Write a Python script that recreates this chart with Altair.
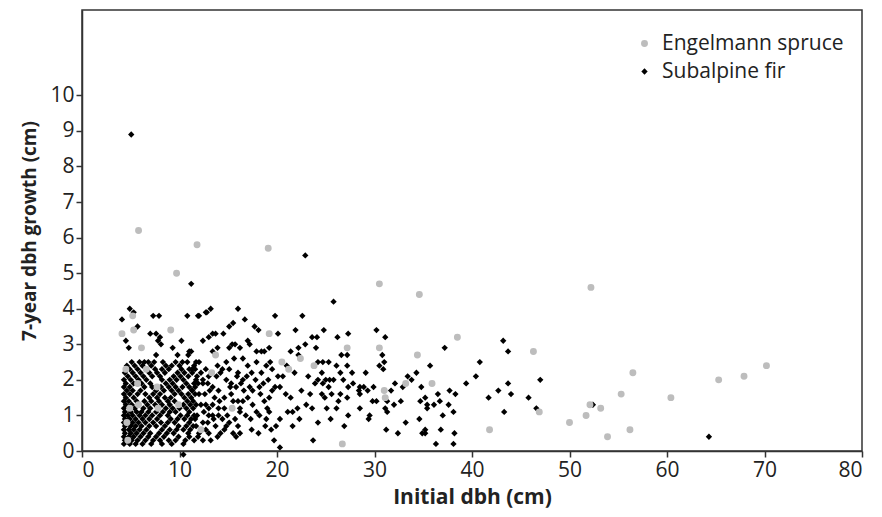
import altair as alt
import pandas as pd

SPRUCE = "Engelmann spruce"
FIR = "Subalpine fir"

# Engelmann spruce points (initial dbh, 7-year growth)
spruce_pts = [
    (5.8, 6.2), (11.8, 5.8), (19.1, 5.7), (9.7, 5.0), (30.5, 4.7), (34.6, 4.4),
    (52.2, 4.6), (38.5, 3.2), (46.3, 2.8), (56.5, 2.2), (70.2, 2.4), (67.9, 2.1),
    (65.3, 2.0), (55.3, 1.6), (60.4, 1.5), (52.1, 1.3), (53.2, 1.2), (51.7, 1.0),
    (50.0, 0.8), (53.9, 0.4), (56.2, 0.6), (46.9, 1.1), (41.8, 0.6), (35.9, 1.9),
    (33.2, 1.9), (31.0, 1.7), (31.1, 1.5), (30.5, 2.9), (34.4, 2.7), (27.2, 2.9),
    (26.7, 0.2), (22.4, 2.6), (20.5, 2.5), (21.2, 2.3), (23.8, 2.4), (19.2, 3.3),
    (13.7, 2.7), (13.3, 2.2), (15.4, 1.2), (12.2, 0.6), (4.1, 3.3), (5.2, 3.8),
    (5.3, 3.4), (9.1, 3.4), (6.1, 2.9), (4.5, 2.3), (6.6, 2.3), (5.7, 1.9),
    (7.7, 1.8), (9.9, 1.3), (4.9, 1.2), (5.8, 1.3), (7.8, 1.2), (4.6, 0.8),
    (4.7, 0.3),
]

# Subalpine fir: outliers and upper points
fir_sparse = [
    (5.05, 8.9), (22.9, 5.5), (11.2, 4.7), (25.8, 4.2), (64.3, 0.4), (52.4, 1.3),
    (10.4, -0.1), (4.9, 4.0), (5.3, 3.9), (4.1, 3.7), (5.7, 3.5), (4.5, 3.1),
    (4.8, 2.9), (7.3, 3.8), (7.9, 3.8), (10.8, 3.8), (11.9, 3.8), (12.8, 3.9),
    (7.0, 3.3), (7.6, 3.3), (7.8, 3.1), (8.1, 3.0), (8.0, 3.2), (9.3, 2.9),
    (10.2, 3.1), (11.0, 2.8), (11.2, 2.8), (7.6, 2.7), (9.8, 2.7), (10.9, 2.7),
    (6.4, 2.5),
]

# Subalpine fir: dense block of small trees, listed row by row (growth, dbh values)
fir_dense_rows = [
    (2.5, [5.1, 5.9, 6.8, 7.4, 8.3, 9.6, 10.3, 10.8]),
    (2.4, [4.6, 5.4, 6.2, 7.1, 8.6, 9.2, 10.0, 11.5]),
    (2.3, [4.9, 5.7, 7.5, 8.2, 8.9, 10.2, 11.0]),
    (2.2, [4.4, 5.2, 6.0, 6.9, 7.7, 8.5, 9.8, 10.5, 11.3]),
    (2.1, [4.7, 5.5, 6.3, 7.2, 8.0, 9.4, 10.1, 10.9]),
    (2.0, [4.3, 5.0, 5.8, 6.6, 8.2, 9.0, 9.7, 10.4, 11.7]),
    (1.9, [4.5, 5.3, 6.1, 7.0, 8.6, 9.3, 10.7]),
    (1.8, [4.3, 4.9, 6.4, 7.2, 8.1, 8.9, 9.6, 10.3, 11.0, 11.6]),
    (1.7, [4.6, 5.2, 6.0, 7.6, 8.4, 9.2, 9.9, 11.3]),
    (1.6, [4.3, 4.9, 5.7, 6.5, 7.3, 8.0, 9.5, 10.2, 10.9, 11.6]),
    (1.5, [4.5, 5.3, 6.9, 7.7, 8.5, 9.1, 10.5, 11.2]),
    (1.4, [4.3, 4.8, 5.6, 6.4, 7.1, 7.9, 8.8, 9.5, 10.8]),
    (1.3, [4.5, 5.1, 6.7, 7.5, 8.2, 9.0, 10.4, 11.1, 11.7]),
    (1.2, [4.3, 5.4, 6.3, 7.0, 8.6, 9.3, 10.0, 10.7, 11.4]),
    (1.1, [4.4, 5.0, 5.6, 6.1, 6.8, 7.6, 8.3, 9.0, 9.6, 11.0]),
    (1.0, [4.3, 4.7, 5.2, 5.9, 6.5, 7.2, 8.0, 8.8, 10.1, 10.8, 11.5]),
    (0.9, [4.4, 4.9, 5.5, 6.2, 6.9, 7.7, 9.1, 9.8, 10.5, 11.2]),
    (0.8, [4.3, 5.2, 5.8, 6.5, 7.3, 8.1, 8.8, 9.5, 11.0]),
    (0.7, [4.4, 5.0, 5.5, 6.1, 6.9, 7.6, 8.5, 9.9, 10.7, 11.4]),
    (0.6, [4.3, 4.8, 5.3, 5.9, 6.6, 8.2, 9.0, 9.7, 10.4, 11.1]),
    (0.5, [4.4, 5.0, 5.6, 6.3, 7.0, 7.9, 8.7, 9.4, 10.9]),
    (0.4, [4.3, 4.8, 5.3, 6.0, 6.8, 7.6, 8.4, 9.9, 11.0]),
    (0.3, [4.4, 5.1, 5.7, 6.5, 7.3, 8.0, 8.9, 9.6, 10.6]),
    (0.2, [4.3, 4.9, 5.5, 6.2, 7.1, 8.2, 9.2, 10.4]),
]

# Subalpine fir: dbh 11-19 cm
fir_mid1 = [
    (12.7, 3.9), (13.2, 4.0), (16.0, 4.0), (12.0, 3.8), (16.7, 3.7), (15.5, 3.6),
    (15.1, 3.5), (17.7, 3.5), (18.1, 3.4), (13.4, 3.3), (13.7, 3.3), (14.5, 3.3),
    (13.0, 3.2), (12.4, 3.1), (15.4, 3.0), (15.7, 3.0), (15.1, 2.9), (16.2, 2.9),
    (17.0, 3.1), (17.2, 3.0), (17.9, 2.8), (18.4, 2.8), (18.7, 2.8), (19.2, 2.9),
    (13.4, 2.8), (13.9, 2.9), (11.7, 2.5), (12.0, 2.5), (14.8, 2.5), (15.6, 2.6),
    (16.5, 2.6), (17.0, 2.4), (17.9, 2.5), (18.9, 2.4), (11.3, 2.3), (12.7, 2.3),
    (15.1, 2.3), (16.0, 2.2), (18.4, 2.2), (11.8, 2.1), (13.0, 2.1), (13.8, 2.1),
    (14.8, 2.0), (16.5, 2.0), (19.1, 2.0), (11.5, 1.9), (12.4, 1.9), (13.4, 1.8),
    (14.0, 1.7), (15.2, 1.8), (15.8, 1.8), (17.2, 1.8), (18.2, 1.8), (17.5, 1.7),
    (11.3, 1.7), (12.0, 1.6), (14.6, 1.5), (15.5, 1.4), (16.0, 1.4), (16.5, 1.4),
    (17.0, 1.5), (17.5, 1.3), (18.3, 1.6), (18.7, 1.4), (11.4, 1.4), (12.7, 1.3),
    (13.0, 1.2), (14.0, 1.2), (16.2, 1.2), (17.9, 1.1), (11.8, 1.0), (13.4, 1.0),
    (14.4, 0.9), (15.7, 0.9), (18.2, 1.0), (12.4, 0.8), (14.8, 0.7), (13.7, 0.7),
    (17.4, 0.6), (18.8, 0.7), (13.0, 0.5), (14.6, 0.6), (15.5, 0.5), (13.9, 0.4),
    (12.4, 0.3), (13.2, 0.3), (16.2, 0.5), (15.8, 0.4), (11.9, 0.4),
    (11.6, 2.3), (12.2, 2.2), (12.4, 2.0), (11.9, 1.9), (12.9, 1.9), (13.1, 1.7),
    (12.6, 1.6), (13.6, 1.5), (14.1, 1.4), (12.2, 1.3), (13.4, 1.3), (14.6, 1.2),
    (12.5, 1.1), (13.0, 1.0), (14.0, 1.0), (11.6, 0.9), (12.9, 0.8), (13.5, 0.9),
    (11.7, 0.7), (12.7, 0.6), (14.2, 0.5), (12.0, 0.5), (11.5, 0.3), (14.4, 2.3),
    (13.9, 2.4), (14.2, 2.2), (15.9, 2.1), (16.9, 2.1), (17.4, 2.2), (17.8, 2.0),
    (18.6, 1.9), (16.6, 1.7), (15.3, 1.6), (16.2, 1.1), (16.8, 1.0), (17.3, 0.9),
    (15.1, 0.8), (16.0, 0.7), (18.1, 0.5), (19.0, 1.2), (18.9, 0.9), (14.9, 1.0),
    (15.3, 1.9), (16.3, 1.9),
]

# Subalpine fir: dbh 19-27 cm
fir_mid2 = [
    (19.8, 3.8), (22.6, 3.8), (20.1, 3.3), (21.9, 3.4), (24.8, 3.4), (23.6, 3.2),
    (24.1, 3.2), (26.2, 3.2), (22.2, 2.9), (22.9, 3.0), (24.0, 2.9), (21.4, 2.8),
    (22.2, 2.7), (26.6, 2.7), (19.3, 2.5), (24.2, 2.5), (24.7, 2.5), (25.3, 2.5),
    (19.5, 2.3), (21.0, 2.4), (21.8, 2.2), (20.1, 2.1), (20.6, 2.1), (23.2, 2.1),
    (26.1, 2.4), (26.5, 2.2), (24.6, 2.2), (25.4, 2.0), (25.0, 2.0), (25.8, 2.0),
    (24.2, 2.0), (23.9, 1.9), (24.7, 1.9), (25.3, 1.8), (19.8, 1.8), (20.3, 1.8),
    (19.5, 1.7), (20.9, 1.6), (19.2, 1.5), (21.4, 1.5), (22.5, 1.7), (23.4, 1.6),
    (24.6, 1.6), (24.9, 1.5), (25.6, 1.6), (26.5, 1.6), (26.3, 1.4), (23.0, 1.3),
    (23.6, 1.2), (25.1, 1.2), (26.1, 1.2), (21.1, 1.1), (22.1, 1.2), (21.6, 1.1),
    (19.2, 1.1), (20.3, 0.9), (22.3, 0.9), (24.2, 0.8), (25.5, 0.9), (19.9, 0.7),
    (21.6, 0.7), (19.4, 0.6), (19.7, 0.3), (23.7, 0.3), (20.3, 0.1),
]

# Subalpine fir: dbh 27-47 cm
fir_large = [
    (27.3, 3.3), (30.2, 3.4), (31.1, 3.2), (30.8, 2.7), (27.2, 2.7), (31.0, 2.5),
    (30.5, 2.4), (30.9, 2.3), (27.2, 2.4), (27.7, 2.2), (29.1, 2.2), (26.8, 2.0),
    (27.8, 1.9), (28.5, 1.8), (28.9, 1.8), (29.9, 1.8), (28.4, 1.7), (27.3, 1.8),
    (29.3, 1.7), (28.5, 1.6), (27.2, 1.5), (29.8, 1.4), (30.2, 1.4), (31.7, 1.7),
    (32.1, 1.9), (32.9, 1.8), (33.4, 2.1), (33.8, 2.0), (34.3, 2.2), (34.7, 1.4),
    (31.3, 1.4), (32.0, 1.3), (32.7, 1.4), (28.5, 1.2), (31.1, 1.2), (31.3, 1.1),
    (29.5, 1.0), (29.4, 0.9), (27.3, 1.0), (26.9, 0.7), (33.2, 0.8), (34.6, 0.9),
    (31.2, 0.6), (32.4, 0.5), (34.9, 0.5),
    (37.2, 2.9), (35.7, 2.4), (43.2, 3.1), (43.7, 2.8), (40.8, 2.5), (40.4, 2.1),
    (39.4, 1.9), (47.0, 2.0), (43.7, 1.9), (42.7, 1.7), (44.0, 1.6), (41.7, 1.5),
    (45.8, 1.5), (46.6, 1.2), (43.3, 1.1), (34.8, 1.8), (37.7, 1.7), (38.3, 1.6),
    (36.5, 1.6), (35.2, 1.5), (36.7, 1.4), (36.1, 1.3), (35.4, 1.3), (35.4, 1.2),
    (37.6, 1.3), (38.1, 1.1), (37.0, 1.0), (35.2, 0.6), (35.2, 0.5), (36.8, 0.6),
    (38.2, 0.5), (36.3, 0.2), (38.1, 0.2),
]

rows = []
for x, y in fir_sparse + fir_mid1 + fir_mid2 + fir_large:
    rows.append({"dbh": x, "growth": y, "species": FIR})
for y, xs in fir_dense_rows:
    for x in xs:
        rows.append({"dbh": x, "growth": y, "species": FIR})
for x, y in spruce_pts:
    rows.append({"dbh": x, "growth": y, "species": SPRUCE})
df = pd.DataFrame(rows)

x_ticks = [0, 10, 20, 30, 40, 50, 60, 70, 80]
y_ticks = [0, 1, 2, 3, 4, 5, 6, 7, 8, 9, 10]
FONT = "Open Sans"

legend = alt.Legend(
    title=None, orient="none", legendX=552, legendY=23,
    labelFontSize=21, labelFont=FONT, labelColor="#222", labelLimit=400,
    symbolSize=18, symbolStrokeWidth=0, rowPadding=6, labelOffset=7,
)

chart = alt.Chart(df).mark_point(filled=True, opacity=1, clip=False).encode(
    x=alt.X("dbh:Q", scale=alt.Scale(domain=[0, 80], nice=False, zero=False),
            axis=alt.Axis(values=x_ticks, title="Initial dbh (cm)", grid=False,
                          titlePadding=6, titleFontSize=21)),
    y=alt.Y("growth:Q", scale=alt.Scale(domain=[0, 12.4], nice=False),
            axis=alt.Axis(values=y_ticks, title="7-year dbh growth (cm)", grid=False,
                          titlePadding=10, titleFontSize=19)),
    color=alt.Color("species:N", scale=alt.Scale(domain=[SPRUCE, FIR],
                    range=["#bdbdbd", "#000000"]), legend=legend),
    shape=alt.Shape("species:N", scale=alt.Scale(domain=[SPRUCE, FIR],
                    range=["circle", "diamond"]), legend=legend),
    size=alt.Size("species:N", scale=alt.Scale(type="ordinal", domain=[SPRUCE, FIR],
                  range=[48, 40]), legend=None),
).properties(
    width=780, height=441,
    autosize=alt.AutoSizeParams(type="none"),
    padding={"left": 74, "top": 2, "right": 6, "bottom": 58},
).configure_view(
    stroke="#333", strokeWidth=1.5
).configure_axis(
    domainColor="#333", domainWidth=1.5, tickColor="#333", tickWidth=1.5, tickSize=6,
    labelFont=FONT, labelFontSize=21, labelColor="#222", labelPadding=2,
    titleFont=FONT, titleFontWeight="bold", titleColor="#222",
)

chart.save("out.html", embed_options={"renderer": "svg", "actions": False})
